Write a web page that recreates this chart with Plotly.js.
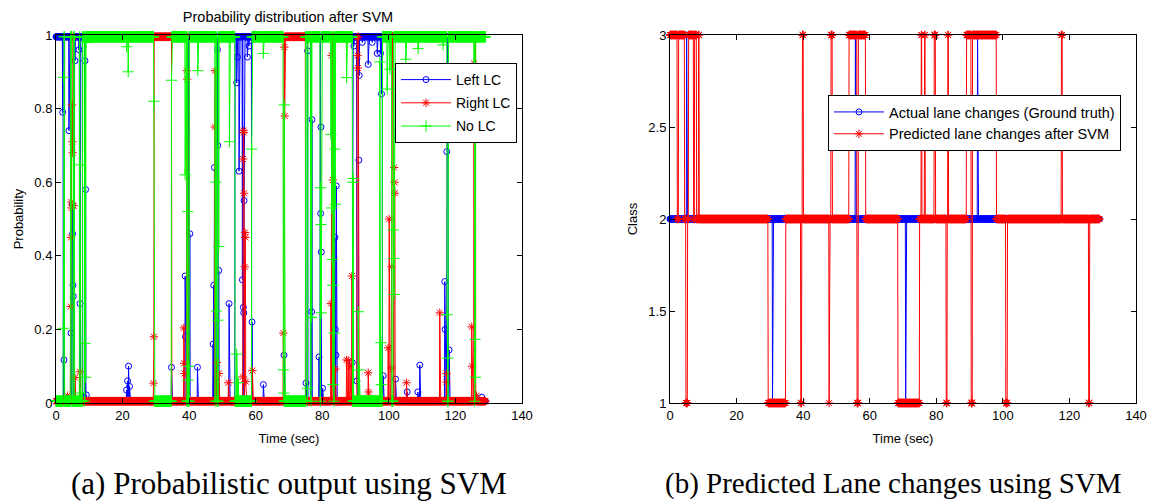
<!DOCTYPE html>
<html>
<head>
<meta charset="utf-8">
<script src="https://cdn.plot.ly/plotly-3.0.1.min.js"></script>
<style>html,body{margin:0;padding:0;background:#fff;}#chart{width:1154px;height:502px;}</style>
</head>
<body>
<div id="chart"></div>
<script>
// ---------------- DATA ----------------
// sampling of the recorded signals (seconds)
const sampleStep = 0.1;
const sampleEnd = 129.0;

// predicted class (right plot, red) as change points: time -> class from then on
const predT = [0,2.2,2.6,4.4,4.8,5.3,5.6,7.1,7.4,8.0,8.6,8.8,29.5,34.8,39.3,39.6,39.8,40.1,47.8,47.9,48.4,48.8,53.8,56.2,56.6,58.8,68.5,75.0,75.5,75.7,76.5,76.7,79.4,79.8,83.0,83.3,83.5,83.7,89.1,90.5,90.9,98.1,100.9,101.4,117.6,117.9,125.8,126.1];
const predC = [3,2,3,2,1,2,3,2,3,2,3,2,1,2,1,2,3,2,1,2,3,2,3,1,3,2,1,2,3,2,3,2,3,2,1,2,3,2,3,1,3,2,1,2,3,2,1,2];

// actual (ground truth) class as change points
const actT = [0,5.0,5.1,30.8,30.9,55.7,55.8,70.8,70.9,92.4,92.5];
const actC = [2,3,2,1,2,3,2,1,2,3,2];

// probability levels of the winning / losing classes
const probHigh = 0.995;
const probLow = 0.005;

// isolated samples that differ from the plateau (time, probability)
const leftSpikeT = [2.0,3.9,5.7,6.9,8.7,8.9,2.4,4.5,4.9,5.0,5.1,5.2,7.2,9.1,21.2,21.5,21.8,22.1,34.7,38.8,38.9,40.2,42.5,47.2,47.4,47.6,48.5,48.6,48.9,52.0,54.3,54.5,55.0,56.0,56.3,56.4,56.5,57.5,58.0,58.9,62.3,68.5,75.1,75.6,76.8,76.9,79.0,79.5,79.6,79.7,80.1,83.8,83.9,84.1,84.2,89.0,89.5,90.4,91.0,91.1,92.0,93.8,95.0,96.5,97.5,97.8,98.3,102.0,105.5,108.7,109.3,116.8,116.9,117.4,118.1,127.9];
const leftSpikeV = [0.79,0.74,0.93,0.96,0.93,0.58,0.117,0.19,0.54,0.46,0.32,0.29,0.27,0.022,0.035,0.06,0.10,0.045,0.097,0.345,0.18,0.46,0.097,0.16,0.32,0.64,0.96,0.70,0.36,0.27,0.87,0.94,0.63,0.335,0.26,0.245,0.55,0.94,0.97,0.22,0.05,0.13,0.054,0.957,0.248,0.77,0.125,0.515,0.75,0.41,0.04,0.45,0.2,0.13,0.59,0.11,0.97,0.06,0.66,0.89,0.98,0.92,0.98,0.95,0.95,0.84,0.074,0.065,0.03,0.03,0.103,0.33,0.2,0.683,0.144,0.016];

const rightSpikeT = [3.5,4.4,4.5,4.6,4.7,4.8,4.9,5.0,5.3,5.7,7.2,29.3,29.4,38.4,38.5,38.6,39.3,39.4,47.7,47.8,48.3,48.9,51.8,56.1,56.2,56.3,56.4,56.5,56.7,56.8,56.9,57.0,59.0,68.3,68.6,68.7,82.6,82.8,83.2,83.9,87.3,87.8,88.3,88.9,90.6,90.7,93.8,93.9,99.8,100.1,100.7,100.8,101.6,101.7,101.8,105.3,115.3,117.3,117.4,124.9,125.0,125.6,126.3];
const rightSpikeV = [0.02,0.262,0.45,0.546,0.53,0.81,0.71,0.68,0.536,0.069,0.085,0.054,0.18,0.204,0.108,0.08,0.903,0.88,0.75,0.903,0.11,0.08,0.055,0.071,0.663,0.74,0.735,0.57,0.37,0.463,0.45,0.058,0.088,0.19,0.967,0.78,0.27,0.944,0.606,0.092,0.117,0.115,0.1,0.345,0.944,0.91,0.082,0.03,0.15,0.5,0.095,0.37,0.64,0.6,0.57,0.055,0.245,0.057,0.08,0.207,0.1,0.923,0.02];

const noSpikeT = [2.2,2.3,7.2,7.3,8.7,8.9,9.0,21.2,21.7,29.4,34.7,38.8,39.5,39.7,39.9,42.6,48.0,48.2,48.6,48.9,52.1,54.3,54.8,58.8,62.3,68.3,68.4,68.6,75.6,76.5,76.8,79.5,79.6,79.7,82.6,82.8,83.0,83.1,83.2,83.6,83.8,83.9,87.3,89.2,89.3,90.8,91.1,97.3,97.6,97.7,99.5,100.3,101.3,101.5,101.6,105.1,108.8,116.3,117.5,117.7,125.6,125.9,126.0];
const noSpikeV = [0.203,0.885,0.647,0.027,0.162,0.07,0.98,0.968,0.90,0.82,0.877,0.62,0.52,0.062,0.1,0.903,0.6,0.25,0.225,0.425,0.71,0.133,0.055,0.69,0.95,0.09,0.027,0.81,0.04,0.232,0.233,0.585,0.485,0.245,0.73,0.53,0.39,0.32,0.05,0.19,0.69,0.54,0.884,0.6,0.61,0.248,0.09,0.927,0.164,0.05,0.853,0.907,0.47,0.393,0.295,0.934,0.963,0.973,0.24,0.122,0.894,0.173,0.07];

// text
const leftTitle = 'Probability distribution after SVM';
const xTitle = 'Time (sec)';
const leftYTitle = 'Probability';
const rightYTitle = 'Class';
const leftNames = ['Left LC','Right LC','No LC'];
const rightNames = ['Actual lane changes (Ground truth)','Predicted lane changes after SVM'];
const captionA = '(a) Probabilistic output using SVM';
const captionB = '(b) Predicted Lane changes using SVM';
const xTicks = [0,20,40,60,80,100,120,140];
const leftYTicks = [0,0.2,0.4,0.6,0.8,1];
const rightYTicks = [1,1.5,2,2.5,3];

// ---------------- expand the change-point data onto the sample grid ----------------
const n = Math.round(sampleEnd / sampleStep) + 1;
const t = [];
for (let i = 0; i < n; i++) t.push(Math.round(i * sampleStep * 10) / 10);

function stepSeries(ct, cv) {
  const out = [];
  let k = 0;
  for (let i = 0; i < n; i++) {
    while (k + 1 < ct.length && t[i] >= ct[k + 1] - 1e-9) k++;
    out.push(cv[k]);
  }
  return out;
}
const predicted = stepSeries(predT, predC);
const actual = stepSeries(actT, actC);

function probSeries(cls, st, sv) {
  const p = predicted.map(c => (c === cls ? probHigh : probLow));
  st.forEach((s, j) => { const idx = Math.round(s / sampleStep); if (idx >= 0 && idx < n) p[idx] = sv[j]; });
  return p;
}
const pLeft = probSeries(3, leftSpikeT, leftSpikeV);
const pRight = probSeries(1, rightSpikeT, rightSpikeV);
const pNo = probSeries(2, noSpikeT, noSpikeV);

// ---------------- traces ----------------
const BLUE = '#0000ff', RED = '#ff0000', GREEN = '#00ff00';
const FONT = 'Liberation Sans, Arial, sans-serif';

function tr(y, name, color, symbol, size, xa, ya, lg, grp) {
  return {
    type: 'scatter', mode: 'lines+markers', x: t, y: y, name: name,
    xaxis: xa, yaxis: ya, legend: lg, legendgroup: grp, cliponaxis: false,
    line: {color: color, width: 1},
    marker: {symbol: symbol, size: size, color: color, line: {color: color, width: 1}}
  };
}

const data = [
  tr(pLeft, leftNames[0], BLUE, 'circle-open', 6, 'x', 'y', 'legend', 'a'),
  tr(pRight, leftNames[1], RED, 'asterisk-open', 7, 'x', 'y', 'legend', 'b'),
  tr(pNo, leftNames[2], GREEN, 'cross-thin-open', 8, 'x', 'y', 'legend', 'c'),
  tr(actual, rightNames[0], BLUE, 'circle-open', 6, 'x2', 'y2', 'legend2', 'd'),
  tr(predicted, rightNames[1], RED, 'asterisk-open', 7, 'x2', 'y2', 'legend2', 'e')
];

function xax(domain, anchor) {
  return {
    domain: domain, anchor: anchor, range: [0, 140], tickvals: xTicks,
    ticks: 'inside', ticklen: 5, tickcolor: '#000', mirror: 'ticks', showline: true,
    linecolor: '#000', linewidth: 1, showgrid: false, zeroline: false,
    tickfont: {family: FONT, size: 13, color: '#000'},
    title: {text: xTitle, font: {family: FONT, size: 13, color: '#000'}, standoff: 12}
  };
}
function yax(domain, anchor, range, ticks, title) {
  return {
    domain: domain, anchor: anchor, range: range, tickvals: ticks,
    ticks: 'inside', ticklen: 5, tickcolor: '#000', mirror: 'ticks', showline: true,
    linecolor: '#000', linewidth: 1, showgrid: false, zeroline: false,
    tickfont: {family: FONT, size: 13, color: '#000'},
    title: {text: title, font: {family: FONT, size: 13, color: '#000'}, standoff: 7}
  };
}

const W = 1154, H = 502;
const yDom = [(H - 403) / H, (H - 35) / H];
const layout = {
  width: W, height: H, margin: {l: 0, r: 0, t: 0, b: 0},
  paper_bgcolor: '#fff', plot_bgcolor: '#fff',
  font: {family: FONT, size: 13, color: '#000'},
  title: {text: leftTitle, x: 288 / W, xanchor: 'center', xref: 'paper', y: 1 - 17 / H, yanchor: 'middle',
          font: {family: FONT, size: 14.5, color: '#000'}},
  xaxis: xax([56 / W, 522 / W], 'y'),
  yaxis: yax(yDom, 'x', [0, 1], leftYTicks, leftYTitle),
  xaxis2: xax([670 / W, 1136 / W], 'y2'),
  yaxis2: yax(yDom, 'x2', [1, 3], rightYTicks, rightYTitle),
  legend: {x: 395 / W, y: 1 - 63 / H, xanchor: 'left', yanchor: 'top', bgcolor: '#fff',
           bordercolor: '#000', borderwidth: 1, traceorder: 'grouped', tracegroupgap: 2,
           itemwidth: 50,
           font: {family: FONT, size: 14, color: '#000'}},
  legend2: {x: 828 / W, y: 1 - 95 / H, xanchor: 'left', yanchor: 'top', bgcolor: '#fff',
            bordercolor: '#000', borderwidth: 1, traceorder: 'grouped', tracegroupgap: 0,
            itemwidth: 50,
            font: {family: FONT, size: 14.5, color: '#000'}},
  showlegend: true,
  annotations: [
    {text: captionA, x: 289 / W, y: 1 - 483 / H, xref: 'paper', yref: 'paper', xanchor: 'center', yanchor: 'middle',
     showarrow: false, font: {family: 'Liberation Serif, Times New Roman, serif', size: 31, color: '#000'}},
    {text: captionB, x: 893 / W, y: 1 - 483 / H, xref: 'paper', yref: 'paper', xanchor: 'center', yanchor: 'middle',
     showarrow: false, font: {family: 'Liberation Serif, Times New Roman, serif', size: 29, color: '#000'}}
  ]
};

Plotly.newPlot('chart', data, layout, {staticPlot: true, displayModeBar: false});
</script>
</body>
</html>
